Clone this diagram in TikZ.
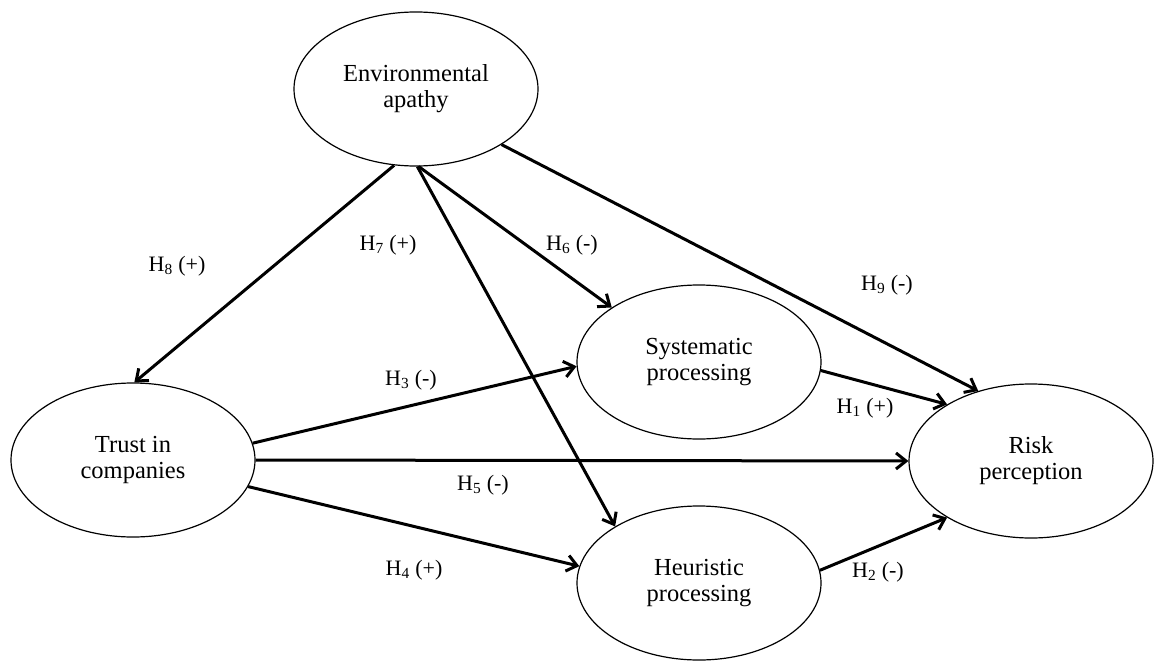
\documentclass[tikz,border=0pt]{standalone}
\usepackage{fontspec}
\setmainfont{Liberation Serif}
\usetikzlibrary{shapes.geometric,arrows.meta}
\begin{document}
\begin{tikzpicture}[x=1pt,y=-1pt,
  var/.style={ellipse,draw,line width=1.2pt,minimum width=244pt,minimum height=154pt,inner sep=0pt,align=center,font=\fontsize{24.5}{26}\selectfont},
  conn/.style={line width=3pt,-{Straight Barb[length=10pt,width=16pt]}},
  lab/.style={font=\fontsize{22}{24}\selectfont,inner sep=0pt}]
\useasboundingbox (0,0) rectangle (1156,661);
\node[var] (env) at (416,89) {Environmental\\apathy};
\node[var] (trust) at (133,460) {Trust in\\companies};
\node[var] (sys) at (699,362) {Systematic\\processing};
\node[var] (risk) at (1031,461) {Risk\\perception};
\node[var] (heur) at (699,583) {Heuristic\\processing};
\draw[conn] (env.254) -- (trust.89);
\draw[conn] (env.271) -- (heur.146);
\draw[conn] (env.272) -- (sys.148);
\draw[conn] (env.327) -- (risk.127);
\draw[conn] (trust.8) -- (sys.182);
\draw[conn] (trust.east) -- (risk.west);
\draw[conn] (trust.347) -- (heur.172);
\draw[conn] (sys.356) -- (risk.146);
\draw[conn] (heur.6) -- (risk.214);
\node[lab] (l8) at (177,266) {H\textsubscript{8} (+)};
\node[lab] (l7) at (388,245) {H\textsubscript{7} (+)};
\node[lab] (l6) at (572,245) {H\textsubscript{6} (-)};
\node[lab] (l9) at (887,285) {H\textsubscript{9} (-)};
\node[lab] (l3) at (411,380) {H\textsubscript{3} (-)};
\node[lab] (l5) at (483,485) {H\textsubscript{5} (-)};
\node[lab] (l4) at (414,570) {H\textsubscript{4} (+)};
\node[lab] (l1) at (865,408) {H\textsubscript{1} (+)};
\node[lab] (l2) at (878,572) {H\textsubscript{2} (-)};
\end{tikzpicture}
\end{document}
